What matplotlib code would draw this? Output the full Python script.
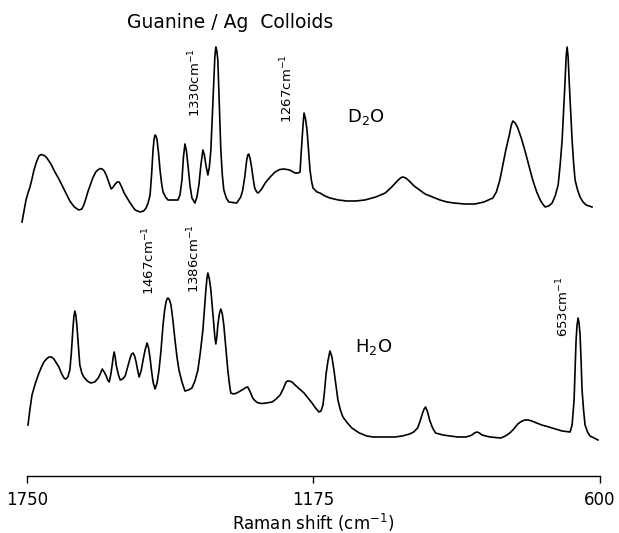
import matplotlib.pyplot as plt
import numpy as np

# Raman shift (cm-1) and relative intensity, Guanine on Ag colloids in D2O
d2o_shift = [1760, 1756, 1752, 1748, 1744, 1740, 1736, 1731, 1726, 1722, 1718, 1714, 1710, 1702,
             1694, 1686, 1678, 1671, 1664, 1655, 1646, 1640, 1636, 1632, 1628, 1618, 1612, 1608,
             1603, 1599, 1595, 1591, 1586, 1581, 1577, 1573, 1569, 1565, 1560, 1555, 1549, 1543,
             1533, 1523, 1516, 1511, 1507, 1503, 1500, 1497, 1495, 1493, 1491, 1489, 1486, 1483,
             1480, 1477, 1472, 1467, 1447, 1443, 1439, 1436, 1433, 1430, 1427, 1423, 1419, 1413,
             1409, 1405, 1401, 1397, 1394, 1391, 1387, 1384, 1381, 1378, 1375, 1373, 1371, 1369,
             1367, 1364, 1361, 1358, 1355, 1350, 1345, 1329, 1321, 1317, 1313, 1309, 1307, 1305,
             1302, 1299, 1296, 1293, 1289, 1286, 1279, 1272, 1262, 1252, 1243, 1234, 1223, 1212,
             1206, 1202, 1200, 1198, 1196, 1194, 1191, 1188, 1185, 1182, 1179, 1176, 1168, 1162,
             1152, 1142, 1125, 1108, 1090, 1072, 1050, 1031, 1018, 1005, 999, 995, 990, 985,
             979, 973, 962, 951, 936, 921, 907, 893, 872, 851, 833, 815, 808, 801,
             795, 789, 782, 778, 775, 770, 765, 758, 751, 743, 735, 727, 720, 715,
             710, 703, 696, 690, 684, 680, 676, 673, 670, 668, 666, 664, 662, 659,
             656, 653, 650, 645, 640, 634, 628, 622, 616]
d2o_int = [3, 14, 25, 32, 38, 46, 55, 63, 69, 70.5, 70, 69, 67, 61,
           53, 46, 38, 31, 24, 18, 15, 16, 20, 26, 33, 47, 53, 55,
           56.5, 56, 54, 50, 43, 36, 38, 41, 43, 43, 38, 32, 27, 22,
           15, 13, 14, 17, 22, 30, 50, 75, 86, 90, 89, 85, 72, 55,
           42, 33, 28, 25, 25, 30, 45, 68, 81, 74, 60, 40, 27, 22,
           28, 40, 60, 75, 70, 60, 50, 58, 75, 110, 145, 168, 178, 174,
           165, 120, 75, 50, 35, 27, 23, 22, 28, 35, 48, 65, 70, 71,
           66, 57, 46, 37, 33, 32, 36, 42, 48, 53, 55.5, 56, 55, 52,
           52, 53, 70, 85, 100, 112, 106, 95, 75, 55, 44, 37, 33, 32,
           29, 27, 25, 24, 24, 25, 28, 32, 38, 45, 47.5, 48, 47, 45,
           42, 39, 35, 31, 28, 25, 23, 22, 21, 21, 23, 27, 33, 45,
           60, 75, 90, 100, 104, 102, 97, 87, 75, 60, 45, 33, 25, 21,
           18, 19, 22, 29, 40, 60, 85, 115, 145, 168, 178, 168, 145, 115,
           85, 62, 45, 35, 28, 23, 20, 19, 18]

# same in H2O
h2o_shift = [1748, 1744, 1740, 1733, 1726, 1721, 1716, 1711, 1706, 1701, 1696, 1691, 1686, 1682,
             1678, 1675, 1672, 1668, 1664, 1661, 1658, 1656, 1654, 1652, 1650, 1647, 1644, 1640,
             1636, 1629, 1622, 1614, 1607, 1603, 1599, 1595, 1591, 1588, 1585, 1582, 1579, 1577,
             1575, 1573, 1571, 1567, 1563, 1558, 1553, 1548, 1543, 1540, 1537, 1534, 1531, 1528,
             1525, 1521, 1517, 1513, 1509, 1506, 1503, 1500, 1497, 1493, 1489, 1485, 1481, 1477,
             1474, 1471, 1469, 1467, 1464, 1461, 1457, 1453, 1449, 1445, 1439, 1433, 1426, 1419,
             1413, 1407, 1402, 1397, 1394, 1391, 1389, 1387, 1384, 1381, 1378, 1375, 1373, 1371,
             1369, 1367, 1364, 1361, 1358, 1355, 1351, 1347, 1344, 1341, 1335, 1329, 1322, 1315,
             1311, 1307, 1302, 1297, 1292, 1286, 1278, 1270, 1264, 1258, 1250, 1242, 1236, 1230,
             1227, 1224, 1218, 1212, 1203, 1194, 1186, 1178, 1171, 1164, 1160, 1156, 1153, 1150,
             1146, 1142, 1138, 1134, 1130, 1126, 1121, 1116, 1107, 1098, 1083, 1068, 1055, 1042,
             1027, 1012, 997, 982, 974, 966, 961, 956, 953, 950, 946, 942, 936, 930,
             915, 901, 885, 869, 862, 857, 852, 847, 842, 837, 829, 821, 810, 799,
             790, 781, 773, 765, 758, 751, 744, 737, 727, 717, 706, 696, 686, 676,
             668, 660, 656, 652, 650, 648, 646, 644, 642, 640, 638, 636, 633, 630,
             625, 620, 612, 604]
h2o_int = [20, 36, 50, 62, 72, 78, 83, 86, 88, 88, 86, 82, 78, 73,
           69, 66.5, 66, 68, 75, 92, 115, 128, 134, 130, 120, 100, 80, 72,
           68, 64, 62, 63, 67, 71, 76, 73, 69, 65, 63, 70, 80, 88,
           93, 88, 80, 71, 65, 66, 69, 78, 87, 91, 92, 89, 83, 75,
           68, 74, 85, 95, 102, 97, 87, 74, 63, 56, 62, 75, 95, 120,
           134, 143, 146, 147, 145, 140, 124, 105, 88, 75, 63, 54, 55, 57,
           64, 75, 93, 115, 135, 155, 166, 172, 166, 155, 138, 120, 108, 101,
           108, 120, 131, 136, 131, 120, 98, 75, 62, 52, 51, 52, 54, 56,
           57.5, 58, 53, 47, 44, 42, 41.5, 42, 42.5, 43, 46, 50, 56, 63,
           64, 64, 63, 60, 56, 52, 47, 42, 37, 33, 34, 40, 53, 70,
           84, 94, 88, 75, 60, 45, 35, 28, 22, 17, 12, 9, 8, 8,
           8, 8, 9, 11, 13, 17, 24, 32, 36, 38, 33, 25, 17, 12,
           10, 9, 8, 8, 9, 10, 12, 13, 12, 10, 9, 8, 7.5, 7,
           9, 12, 16, 21, 23.5, 25, 25, 24, 22, 20, 18.5, 17, 15.5, 14,
           13.5, 13, 20, 45, 75, 105, 120, 127, 122, 110, 85, 55, 35, 20,
           13, 9, 7, 5]

d2o_offset = 251
h2o_offset = 31

peak_labels = ["1330cm$^{-1}$", "1267cm$^{-1}$", "1467cm$^{-1}$", "1386cm$^{-1}$", "653cm$^{-1}$"]
peak_label_x = [1413, 1228, 1505, 1415, 674]
peak_label_y = [359, 353, 181, 183, 139]

fig = plt.figure(figsize=(6.19, 5.33), dpi=100)
ax = fig.add_axes([27 / 619, 57 / 533, 573 / 619, 476 / 533])

ax.plot(d2o_shift, np.array(d2o_int) + d2o_offset, color="black", lw=1.2, clip_on=False)
ax.plot(h2o_shift, np.array(h2o_int) + h2o_offset, color="black", lw=1.2, clip_on=False)

ax.set_xlim(1750, 600)
ax.set_ylim(0, 476)

for spine in ["left", "right", "top"]:
    ax.spines[spine].set_visible(False)
ax.spines["bottom"].set_linewidth(1.0)
ax.set_yticks([])
ax.set_xticks([1750, 1175, 600])
ax.set_xticklabels(["1750", "1175", "600"], fontsize=12)
ax.tick_params(axis="x", direction="out", length=5, width=1.0, pad=6)
ax.set_xlabel("Raman shift (cm$^{-1}$)", fontsize=12, labelpad=2)

for txt, x, y in zip(peak_labels, peak_label_x, peak_label_y):
    ax.text(x, y, txt, rotation=90, ha="center", va="bottom", fontsize=9.5)

ax.text(1070, 359, "D$_2$O", ha="center", va="center", fontsize=13)
ax.text(1054, 129, "H$_2$O", ha="center", va="center", fontsize=13)

fig.text(230 / 619, 1 - 23 / 533, "Guanine / Ag  Colloids", ha="center", va="center", fontsize=13.5)

fig.savefig("out.png", dpi=100)
